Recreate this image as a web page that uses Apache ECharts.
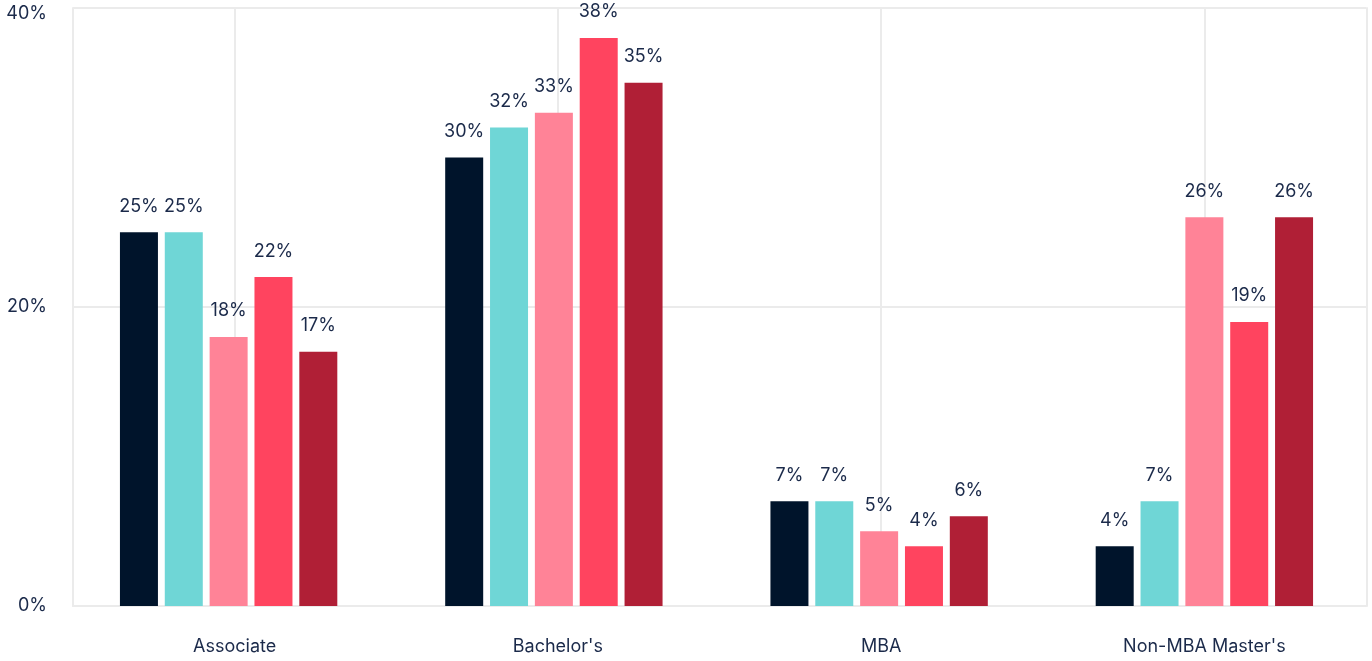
<!DOCTYPE html>
<html><head><meta charset="utf-8">
<script src="https://cdn.jsdelivr.net/npm/echarts@6/dist/echarts.min.js"></script>
<style>html,body{margin:0;padding:0;background:#fff}#c{width:1372px;height:661px}</style>
</head><body><div id="c"></div>
<script>
const categories = ["Associate", "Bachelor's", "MBA", "Non-MBA Master's"];
const seriesA = [25, 30, 7, 4];
const seriesB = [25, 32, 7, 7];
const seriesC = [18, 33, 5, 26];
const seriesD = [22, 38, 4, 19];
const seriesE = [17, 35, 6, 26];
const yTicks = [0, 20, 40];
const colors = ['#00142b', '#6fd6d6', '#ff8397', '#ff445f', '#b01f36'];
const allSeries = [seriesA, seriesB, seriesC, seriesD, seriesE];
const textColor = '#1b2a4a';
const gridColor = '#ebebeb';
const chart = echarts.init(document.getElementById('c'));
chart.setOption({
  animation: false,
  textStyle: {fontFamily: 'Inter'},
  grid: [
    {left: 66, right: 5, top: 8, bottom: 55},
    {left: 73, right: 6, top: 8, bottom: 55}
  ],
  xAxis: [
    {type: 'category', data: categories, gridIndex: 0, show: false},
    {
      type: 'category', data: categories, gridIndex: 1,
      axisLine: {show: true, lineStyle: {color: gridColor, width: 2}},
      axisTick: {show: false},
      axisLabel: {color: textColor, fontSize: 18, margin: 32, fontFamily: 'Inter'},
      splitLine: {show: true, alignWithLabel: true, lineStyle: {color: gridColor, width: 2}}
    }
  ],
  yAxis: [
    {
      type: 'value', gridIndex: 0, min: 0, max: 40, interval: 20, position: 'right',
      axisLine: {show: true, lineStyle: {color: gridColor, width: 2}},
      axisLabel: {show: false}, axisTick: {show: false}, splitLine: {show: false}
    },
    {
      type: 'value', gridIndex: 1, min: yTicks[0], max: yTicks[yTicks.length - 1], interval: 20,
      axisLine: {show: true, lineStyle: {color: gridColor, width: 2}},
      axisLabel: {color: textColor, fontSize: 18, margin: 26, fontFamily: 'Inter',
        formatter: v => v === 40 ? '{t|' + v + '%}' : v + '%',
        rich: {t: {fontSize: 18, color: textColor, fontFamily: 'Inter', padding: [11, 0, 0, 0]}}},
      splitLine: {lineStyle: {color: gridColor, width: 2}}
    }
  ],
  series: allSeries.map((d, i) => ({
    type: 'bar', data: d, barWidth: 38, barGap: '18%', xAxisIndex: 0, yAxisIndex: 0,
    itemStyle: {color: colors[i]},
    label: {show: true, position: 'top', distance: 17, color: textColor, fontSize: 18,
      fontFamily: 'Inter', formatter: p => Math.round(p.value) + '%'}
  }))
});
</script></body></html>
